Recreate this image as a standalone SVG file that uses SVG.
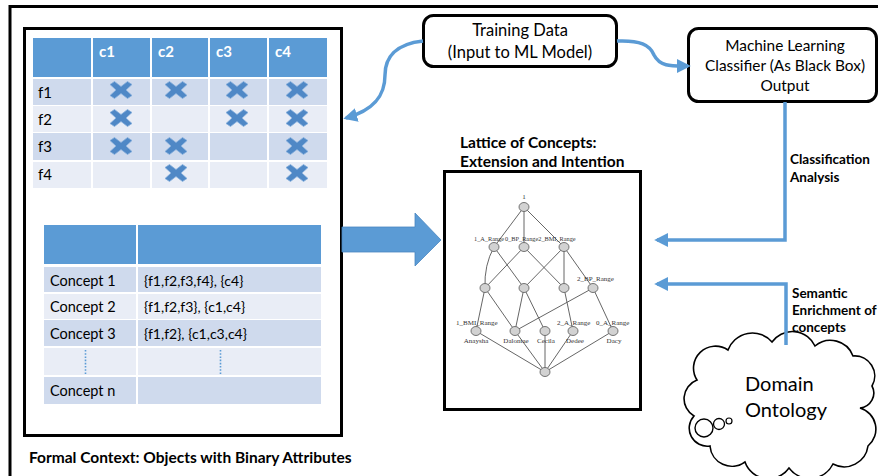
<svg xmlns="http://www.w3.org/2000/svg" width="878" height="476" viewBox="0 0 878 476">
<style>
text{font-family:Lato,"Open Sans","Liberation Sans",sans-serif;fill:#000}
.hd{fill:#5b9bd5}
.dk{fill:#cfdaed}
.lt{fill:#e9edf6}
.ht{font-weight:bold;font-size:15px;fill:#fff}
.cell{font-size:15px}
.cell2{font-size:14.5px}
.bold{font-weight:bold;font-size:13.5px}
.title{font-weight:bold;font-size:15.5px}
.box{fill:#fff;stroke:#000;stroke-width:3}
.blue{fill:none;stroke:#5b9bd5;stroke-width:3.5}
.lat{stroke:#555;stroke-width:0.9;fill:none}
.ln{fill:#d2d2d2;stroke:#666;stroke-width:0.9}
.ll text{font-family:"Liberation Serif",serif;font-size:7px;fill:#333}
</style>
<defs>
<path id="x" d="M-11,-5.5 L-6.5,-8.5 L0,-3.5 L6.5,-8.5 L11,-5.5 L5,0 L11,5.5 L6.5,8.5 L0,3.5 L-6.5,8.5 L-11,5.5 L-5,0 Z" fill="#4f88c6" stroke="#86aedc" stroke-width="0.8"/>
<marker id="ah" viewBox="0 0 10 10" refX="8" refY="5" markerWidth="4" markerHeight="4" orient="auto" markerUnits="strokeWidth"><path d="M0,0 L10,5 L0,10 Z" fill="#5b9bd5"/></marker>
</defs>
<rect width="878" height="476" fill="#fff"/>
<path d="M10,476 V6.5 H878" fill="none" stroke="#000" stroke-width="3"/>

<g id="formal-context">
<rect x="24.5" y="28.5" width="317" height="407" class="box"/>
<g id="table1">
<rect x="33" y="38" width="58" height="39" class="hd"/>
<rect x="93" y="38" width="57" height="39" class="hd"/>
<rect x="152" y="38" width="56" height="39" class="hd"/>
<rect x="210" y="38" width="57" height="39" class="hd"/>
<rect x="269" y="38" width="58" height="39" class="hd"/>
<text x="99" y="57" class="ht">c1</text>
<text x="158" y="57" class="ht">c2</text>
<text x="216" y="57" class="ht">c3</text>
<text x="275" y="57" class="ht">c4</text>
<g class="dk"><rect x="33" y="79" width="58" height="26"/><rect x="93" y="79" width="57" height="26"/><rect x="152" y="79" width="56" height="26"/><rect x="210" y="79" width="57" height="26"/><rect x="269" y="79" width="58" height="26"/></g>
<g class="lt"><rect x="33" y="106" width="58" height="26"/><rect x="93" y="106" width="57" height="26"/><rect x="152" y="106" width="56" height="26"/><rect x="210" y="106" width="57" height="26"/><rect x="269" y="106" width="58" height="26"/></g>
<g class="dk"><rect x="33" y="133" width="58" height="27"/><rect x="93" y="133" width="57" height="27"/><rect x="152" y="133" width="56" height="27"/><rect x="210" y="133" width="57" height="27"/><rect x="269" y="133" width="58" height="27"/></g>
<g class="lt"><rect x="33" y="162" width="58" height="26"/><rect x="93" y="162" width="57" height="26"/><rect x="152" y="162" width="56" height="26"/><rect x="210" y="162" width="57" height="26"/><rect x="269" y="162" width="58" height="26"/></g>
<text x="38" y="98" class="cell">f1</text>
<text x="38" y="125" class="cell">f2</text>
<text x="38" y="152" class="cell">f3</text>
<text x="38" y="180" class="cell">f4</text>
<use href="#x" x="121" y="90"/><use href="#x" x="176" y="90"/><use href="#x" x="237" y="90"/><use href="#x" x="297" y="90"/>
<use href="#x" x="121" y="118"/><use href="#x" x="237" y="118"/><use href="#x" x="297" y="118"/>
<use href="#x" x="121" y="146"/><use href="#x" x="176" y="146"/><use href="#x" x="297" y="146"/>
<use href="#x" x="176" y="173"/><use href="#x" x="297" y="173"/>
</g>
<g id="table2">
<rect x="44" y="225" width="92" height="39" class="hd"/>
<rect x="138" y="225" width="183" height="39" class="hd"/>
<rect x="44" y="267" width="92" height="25" class="dk"/><rect x="138" y="267" width="183" height="25" class="dk"/>
<rect x="44" y="294" width="92" height="25" class="lt"/><rect x="138" y="294" width="183" height="25" class="lt"/>
<rect x="44" y="320" width="92" height="26" class="dk"/><rect x="138" y="320" width="183" height="26" class="dk"/>
<rect x="44" y="348" width="92" height="27" class="lt"/><rect x="138" y="348" width="183" height="27" class="lt"/>
<rect x="44" y="377" width="92" height="27" class="dk"/><rect x="138" y="377" width="183" height="27" class="dk"/>
<text x="50" y="286" class="cell2">Concept 1</text>
<text x="50" y="312" class="cell2">Concept 2</text>
<text x="50" y="339" class="cell2">Concept 3</text>
<text x="50" y="396" class="cell2">Concept n</text>
<text x="144" y="286" class="cell2" style="font-size:14px">{f1,f2,f3,f4}, {c4}</text>
<text x="144" y="312" class="cell2" style="font-size:14px">{f1,f2,f3}, {c1,c4}</text>
<text x="144" y="339" class="cell2" style="font-size:14px">{f1,f2}, {c1,c3,c4}</text>
<path d="M85.5,350 V375 M220.5,350 V375" stroke="#5b9bd5" stroke-width="1.6" stroke-dasharray="1.6,1.6"/>
</g>
<text x="29" y="463" class="title">Formal Context: Objects with Binary Attributes</text>
</g>

<g id="training-data">
<rect x="423.5" y="15.5" width="193" height="51" rx="10" class="box"/>
<text x="520" y="36" text-anchor="middle" style="font-size:16.5px">Training Data</text>
<text x="520" y="58" text-anchor="middle" style="font-size:16.5px">(Input to ML Model)</text>
</g>

<g id="ml-classifier">
<rect x="688.5" y="28.5" width="188" height="73" rx="10" class="box"/>
<text x="785" y="51" text-anchor="middle" style="font-size:15.4px">Machine Learning</text>
<text x="785" y="71" text-anchor="middle" style="font-size:15.4px">Classifier (As Black Box)</text>
<text x="785" y="91" text-anchor="middle" style="font-size:15.4px">Output</text>
</g>

<g id="lattice">
<text x="460" y="148" class="title">Lattice of Concepts:</text>
<text x="460" y="167" class="title">Extension and Intention</text>
<rect x="444.5" y="171.5" width="196" height="238" class="box"/>
<g class="lat">
<path d="M524,207 L494,247 M524,207 L524,247 M524,207 L564,247"/>
<path d="M494,247 Q484,265 485,288 M494,247 L524,288 M524,247 L485,288 M524,247 L564,288 M564,247 L524,288 M564,247 L564,288 M564,247 L593,288"/>
<path d="M485,288 L476,331 M485,288 L515,331 M524,288 L515,331 M524,288 L545,331 M564,288 L573,331 M593,288 L515,331 M593,288 L613,331"/>
<path d="M476,331 L545,372 M515,331 L545,372 M545,331 L545,372 M573,331 L545,372 M613,331 L545,372"/>
</g>
<g class="ln">
<ellipse cx="524" cy="207" rx="5" ry="4.5"/>
<ellipse cx="494" cy="247" rx="5" ry="4.5"/><ellipse cx="524" cy="247" rx="5" ry="4.5"/><ellipse cx="564" cy="247" rx="5" ry="4.5"/>
<ellipse cx="485" cy="288" rx="5" ry="4.5"/><ellipse cx="524" cy="288" rx="5" ry="4.5"/><ellipse cx="564" cy="288" rx="5" ry="4.5"/><ellipse cx="593" cy="288" rx="5" ry="4.5"/>
<ellipse cx="476" cy="331" rx="5" ry="4.5"/><ellipse cx="515" cy="331" rx="5" ry="4.5"/><ellipse cx="545" cy="331" rx="5" ry="4.5"/><ellipse cx="573" cy="331" rx="5" ry="4.5"/><ellipse cx="613" cy="331" rx="5" ry="4.5"/>
<ellipse cx="545" cy="372" rx="5" ry="4.5"/>
</g>
<g class="ll">
<text x="524" y="199" text-anchor="middle">1</text>
<text x="474" y="241" style="font-size:6.3px">1_A_Range</text>
<text x="505" y="241" style="font-size:6.3px">0_BP_Range2_BMI_Range</text>
<text x="577" y="281">2_BP_Range</text>
<text x="456" y="325">1_BMI_Range</text>
<text x="557" y="325">2_A_Range</text>
<text x="596" y="325">0_A_Range</text>
<text x="476" y="343" text-anchor="middle">Anaysha</text>
<text x="516" y="343" text-anchor="middle">Dalontae</text>
<text x="546" y="343" text-anchor="middle">Cecila</text>
<text x="575" y="343" text-anchor="middle">Dedee</text>
<text x="614" y="343" text-anchor="middle">Dacy</text>
</g>
</g>

<g id="domain-ontology">
<path d="M697,380 A22,22 0 0 1 728,350 A26,26 0 0 1 772,342 A25,25 0 0 1 815,346 A24,24 0 0 1 853,356 A20,20 0 0 1 872,386 A15,15 0 0 1 860,408 A22,22 0 0 1 868,446 A24,24 0 0 1 833,464 A26,26 0 0 1 789,468 A25,25 0 0 1 745,462 A22,22 0 0 1 710,446 A18,18 0 0 1 694,416 A20,20 0 0 1 697,380 Z" fill="#fff" stroke="#000" stroke-width="1.6"/>
<circle cx="704" cy="428" r="9" fill="#fff" stroke="#000" stroke-width="1.4"/>
<circle cx="719" cy="424" r="5.5" fill="#fff" stroke="#000" stroke-width="1.3"/>
<circle cx="729" cy="421" r="3" fill="#fff" stroke="#000" stroke-width="1.2"/>
<text x="745" y="391" style="font-size:20px">Domain</text>
<text x="745" y="417" style="font-size:20px">Ontology</text>
</g>

<g id="connectors">
<path d="M342,227 H415 V213 L441,240 L415,266 V252 H342 Z" fill="#5b9bd5" stroke="#4a86c0" stroke-width="0.8"/>
<path d="M423,41 C395,44 385,58 385,75 C385,95 375,110 346,118" class="blue" marker-end="url(#ah)"/>
<path d="M617,41 C640,40 650,45 654,55 C660,67 672,66 688,66" class="blue" marker-end="url(#ah)"/>
<path d="M785,102 V240 H657" class="blue" stroke-width="4" marker-end="url(#ah)"/>
<path d="M786,345 V284 H657" class="blue" stroke-width="4" marker-end="url(#ah)"/>
<text x="790" y="164" class="bold">Classification</text>
<text x="790" y="182" class="bold">Analysis</text>
<text x="792" y="298" class="bold">Semantic</text>
<text x="792" y="315" class="bold">Enrichment of</text>
<text x="792" y="332" class="bold">concepts</text>
</g>
</svg>
